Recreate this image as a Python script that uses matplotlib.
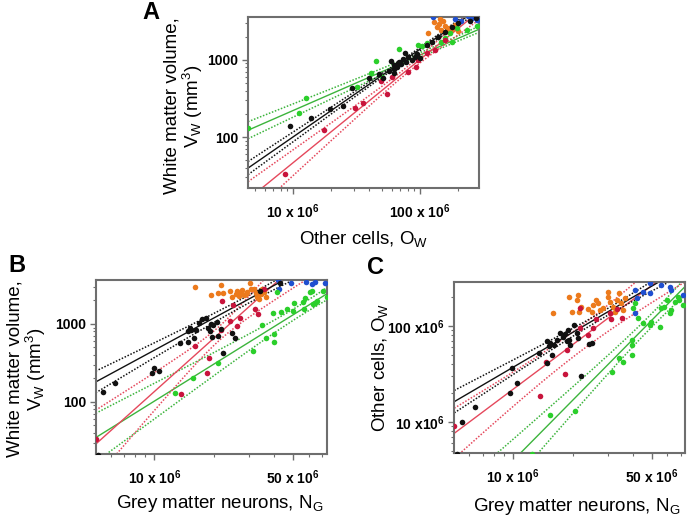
import numpy as np
import matplotlib
matplotlib.use('Agg')
import matplotlib.pyplot as plt
from matplotlib.ticker import LogLocator, NullFormatter

plt.rcParams['font.family'] = ['Liberation Sans', 'DejaVu Sans']
plt.rcParams['mathtext.fontset'] = 'custom'
plt.rcParams['mathtext.rm'] = 'Liberation Sans'
plt.rcParams['mathtext.it'] = 'Liberation Sans:italic'
plt.rcParams['mathtext.bf'] = 'Liberation Sans:bold'

# ---- panel A: other cells (x) vs white matter volume (y)
A_black_x = [9.5e6, 14e6, 19.7e6, 25e6, 29e6, 40e6, 48e6, 51e6, 57e6, 59e6, 62e6, 62e6, 63e6, 66e6, 67e6,
             68e6, 71e6, 74e6, 76e6, 78e6, 81e6, 86e6, 91e6, 95e6, 100e6, 113e6, 124e6, 140e6, 157e6,
             178e6, 200e6, 248e6, 275e6]
A_black_y = [139, 178, 231, 253, 433, 578, 652, 589, 720, 980, 672, 861, 757, 800, 906,
             950, 887, 1020, 1220, 940, 1100, 1000, 1100, 1200, 1050, 1570, 1730, 2010, 2330,
             2700, 3050, 3240, 3500]
A_red_x = [8.6e6, 17.6e6, 30.8e6, 35.4e6, 49e6, 54.7e6, 60e6, 81e6, 93e6, 97e6, 113e6, 131e6, 157e6]
A_red_y = [33, 123, 236, 274, 533, 362, 607, 705, 818, 1000, 1220, 1350, 1820]
A_green_x = [4.45e6, 11.1e6, 12.6e6, 32e6, 41e6, 44.8e6, 50e6, 68e6, 96e6, 103e6, 113e6, 147e6, 157e6,
             172e6, 179e6, 195e6, 234e6, 281e6]
A_green_y = [130, 203, 321, 450, 672, 980, 600, 1380, 1570, 1520, 1650, 1730, 1910,
             2220, 1710, 2580, 2450, 2770]
A_orange_x = [116e6, 129e6, 136e6, 141e6, 145e6, 147e6, 152e6, 157e6, 163e6, 169e6, 179e6, 189e6, 199e6]
A_orange_y = [2240, 3100, 2680, 2930, 3400, 2450, 3200, 2770, 2380, 2600, 2520, 2850, 2380]
A_blue_x = [127e6, 188e6, 212e6, 240e6, 255e6, 280e6]
A_blue_y = [3650, 3400, 3240, 3700, 3500, 3300]

# ---- panel B: grey matter neurons (x) vs white matter volume (y)
B_black_x = [5.2e6, 5.5e6, 6.3e6, 9.7e6, 9.9e6, 10.6e6, 13.4e6, 14.8e6, 14.8e6, 15.1e6, 15.3e6, 15.8e6,
             16.3e6, 16.8e6, 17.4e6, 18.1e6, 18.7e6, 19e6, 19.4e6, 19.5e6, 19.7e6, 20.6e6, 20.9e6,
             21.6e6, 22.1e6, 24.6e6, 25.5e6, 34e6, 43e6]
B_black_y = [21, 135, 177, 233, 275, 252, 566, 593, 820, 880, 838, 656,
             838, 1020, 1150, 1200, 880, 800, 1000, 680, 966, 1070, 700,
             855, 430, 760, 670, 2650, 3330]
B_red_x = [5.06e6, 13.6e6, 16e6, 18.5e6, 18.9e6, 21.6e6, 22e6, 24e6, 25e6, 26e6, 26.9e6, 32e6, 33.3e6, 35.8e6]
B_red_y = [33, 126, 522, 233, 370, 838, 1970, 1090, 1740, 943, 1180, 1540, 1330, 2780]
B_green_x = [12.7e6, 15.6e6, 20.9e6, 31.5e6, 35e6, 36.5e6, 40.1e6, 40.1e6, 39.8e6, 41.7e6, 43.3e6, 46.5e6,
             50.3e6, 50.7e6, 56.6e6, 56e6, 57.6e6, 61e6, 62.6e6, 63.4e6, 65e6, 66e6, 71e6, 74e6]
B_green_y = [129, 202, 316, 450, 970, 656, 738, 593, 1370, 2570, 1420, 1540,
             1470, 1840, 1540, 1910, 2170, 2570, 2650, 1790, 1880, 1970, 2650, 2240]
B_orange_x = [16e6, 19.3e6, 20.9e6, 21.8e6, 22.2e6, 24e6, 24.6e6, 25.7e6, 26.2e6, 26.7e6, 27.2e6, 27.7e6,
              28.3e6, 28.9e6, 29.4e6, 30.4e6, 30.6e6, 31.8e6, 32.4e6, 33e6, 33.7e6, 34.4e6, 35e6,
              35.7e6, 36.5e6]
B_orange_y = [2980, 2330, 2470, 3190, 2520, 2650, 2240, 2400, 2650, 2290, 2520, 2730,
              2330, 2400, 2570, 3330, 2780, 2840, 2520, 2240, 2070, 2400, 2780,
              2570, 2240]
B_blue_x = [41.9e6, 42.6e6, 48.7e6, 58e6, 62.6e6, 65e6, 73e6]
B_blue_y = [3665, 2790, 3390, 3450, 3230, 3450, 3390]

# ---- panel C: grey matter neurons (x) vs other cells (y)
C_black_x = [5.2e6, 5.5e6, 6.4e6, 9.6e6, 9.9e6, 10.5e6, 13.5e6, 14.8e6, 15.3e6, 15.2e6, 15.6e6, 14.8e6,
             16.1e6, 16.6e6, 17.2e6, 17.9e6, 18.2e6, 18.6e6, 19e6, 19.1e6, 19.3e6, 20.3e6, 20.9e6,
             21.3e6, 22e6, 24.2e6, 24.9e6]
C_black_y = [4.6e6, 9.9e6, 14.4e6, 20.2e6, 36.2e6, 25.6e6, 52e6, 70e6, 67e6, 62e6, 50e6, 41.5e6,
             63e6, 71e6, 84e6, 77e6, 83e6, 69e6, 91e6, 71e6, 63e6, 102e6, 84e6,
             74.5e6, 30e6, 65e6, 66e6]
C_red_x = [5.04e6, 13.6e6, 14.6e6, 18.2e6, 18.6e6, 21.7e6, 21.7e6, 23.7e6, 25.3e6, 26.3e6, 30.8e6,
           31.3e6, 33.3e6, 35.3e6]
C_red_y = [9e6, 18.7e6, 42e6, 31.6e6, 56e6, 153e6, 95e6, 80e6, 95e6, 117e6, 136e6,
           117e6, 149e6, 120e6]
C_green_x = [12.5e6, 15.3e6, 20.5e6, 31.4e6, 34.3e6, 35.8e6, 39.6e6, 39.6e6, 39.8e6, 40.4e6, 41.2e6,
             42.8e6, 45.4e6, 49e6, 49.8e6, 55e6, 56e6, 57.8e6, 59.7e6, 61.7e6, 62.5e6, 65.6e6,
             68e6, 69e6, 72e6]
C_green_y = [4.6e6, 11.8e6, 13.1e6, 33.4e6, 46e6, 42.5e6, 71e6, 63e6, 50e6, 153e6, 172e6,
             120e6, 107e6, 102e6, 111e6, 98e6, 153e6, 159e6, 187e6, 136e6, 147e6, 179e6,
             202e6, 187e6, 165e6]
C_orange_x = [15.9e6, 19.1e6, 19.8e6, 20.9e6, 21.3e6, 21.5e6, 21.9e6, 23.9e6, 24.9e6, 25.3e6, 26.1e6,
              26.9e6, 27.5e6, 28.5e6, 29.9e6, 30.2e6, 30.8e6, 32e6, 32.6e6, 33.3e6, 34e6, 34.8e6,
              35.8e6, 36.6e6]
C_orange_y = [138e6, 202e6, 141e6, 187e6, 210e6, 141e6, 159e6, 149e6, 141e6, 166e6, 187e6,
              175e6, 147e6, 153e6, 228e6, 202e6, 179e6, 159e6, 141e6, 187e6, 219e6, 172e6,
              147e6, 194e6]
C_blue_x = [41.2e6, 41.9e6, 41.2e6, 45.4e6, 49e6, 49e6, 56e6, 61.7e6, 62.6e6, 72e6]
C_blue_y = [237e6, 194e6, 136e6, 228e6, 222e6, 282e6, 267e6, 257e6, 237e6, 210e6]

# fitted lines: log10(y) = a + b*(log10(x) - 7)
# band half width = sqrt(w0^2 + (k*(log10(x) - c))^2)   -> [a, b, c, w0, k]
fitA_black = [2.0, 1.14, 7.9, 0.02, 0.066]
fitA_red = [1.665, 1.34, 7.9, 0.04, 0.18]
fitA_green = [2.343, 0.72, 8.1, 0.03, 0.073]
fitB_black = [2.664, 1.375, 7.48, 0.05, 0.167]
fitB_red = [2.134, 2.277, 7.33, 0.09, 0.68]
fitB_green = [2.011, 1.58, 7.75, 0.07, 0.29]
fitC_black = [7.571, 1.207, 7.45, 0.035, 0.149]
fitC_red = [7.342, 1.545, 7.35, 0.13, 0.35]
fitC_green = [6.6, 2.088, 7.7, 0.07, 0.30]

col_black = '#111111'
col_red = '#c8143c'
col_red_line = '#e5485c'
col_green = '#2bcf2b'
col_green_line = '#3cb43c'
col_orange = '#ec7a1c'
col_blue = '#1f4fd0'
frame_col = '#6e6e6e'


def fit_lines(ax, xlim, p, col):
    a, b, c, w0, k = p
    lx = np.linspace(np.log10(xlim[0]), np.log10(xlim[1]), 300)
    mid = a + b * (lx - 7)
    hw = np.sqrt(w0 ** 2 + (k * (lx - c)) ** 2)
    ax.plot(10 ** lx, 10 ** mid, color=col, lw=1.0)
    ax.plot(10 ** lx, 10 ** (mid + hw), color=col, lw=1.1, ls=(0, (1, 1.1)))
    ax.plot(10 ** lx, 10 ** (mid - hw), color=col, lw=1.1, ls=(0, (1, 1.1)))


def setup(ax, xlim, ylim, xt, xtl, yt, ytl):
    ax.set_xscale('log')
    ax.set_yscale('log')
    ax.set_xlim(xlim)
    ax.set_ylim(ylim)
    ax.set_xticks(xt, xtl, fontweight='bold', fontsize=10)
    ax.set_yticks(yt, ytl, fontweight='bold', fontsize=10)
    for axis in (ax.xaxis, ax.yaxis):
        axis.set_minor_locator(LogLocator(base=10, subs=np.arange(2, 10), numticks=30))
        axis.set_minor_formatter(NullFormatter())
    ax.tick_params(which='major', length=4, width=1, color=frame_col, direction='out')
    ax.tick_params(which='minor', length=2.5, width=0.8, color=frame_col, direction='out')
    ax.tick_params(axis='x', which='major', pad=6)
    ax.tick_params(axis='y', which='major', pad=3)
    for s in ax.spines.values():
        s.set_color(frame_col)
        s.set_linewidth(1.5)


def dots(ax, x, y, col):
    ax.scatter(x, y, s=16, color=col, linewidths=0, zorder=3)


fig = plt.figure(figsize=(6.92, 5.23), dpi=100)

# panel A
axA = fig.add_axes([0.3584, 0.6405, 0.3338, 0.327])
xlimA = (4.43e6, 2.92e8)
dots(axA, A_orange_x, A_orange_y, col_orange)
dots(axA, A_blue_x, A_blue_y, col_blue)
dots(axA, A_green_x, A_green_y, col_green)
dots(axA, A_red_x, A_red_y, col_red)
dots(axA, A_black_x, A_black_y, col_black)
fit_lines(axA, xlimA, fitA_green, col_green_line)
fit_lines(axA, xlimA, fitA_red, col_red_line)
fit_lines(axA, xlimA, fitA_black, col_black)
setup(axA, xlimA, (21.8, 3610), [1e7, 1e8],
      [r'10 x 10$^\mathbf{6}$', r'100 x 10$^\mathbf{6}$'], [100, 1000], ['100', '1000'])
axA.set_xlabel(r'Other cells, O$_\mathregular{W}$', fontsize=13.5)
axA.xaxis.set_label_coords(0.5, -0.24)
axA.set_ylabel('White matter volume,\n' + r'V$_\mathregular{W}$ (mm$^\mathregular{3}$)', fontsize=13.5,
               linespacing=1.0)
axA.yaxis.set_label_coords(-0.186, 0.48)

# panel B
axB = fig.add_axes([0.1383, 0.1314, 0.3347, 0.3333])
xlimB = (5.05e6, 7.46e7)
dots(axB, B_orange_x, B_orange_y, col_orange)
dots(axB, B_blue_x, B_blue_y, col_blue)
dots(axB, B_green_x, B_green_y, col_green)
dots(axB, B_red_x, B_red_y, col_red)
dots(axB, B_black_x, B_black_y, col_black)
fit_lines(axB, xlimB, fitB_green, col_green_line)
fit_lines(axB, xlimB, fitB_red, col_red_line)
fit_lines(axB, xlimB, fitB_black, col_black)
setup(axB, xlimB, (21.3, 3665), [1e7, 5e7],
      [r'10 x 10$^\mathbf{6}$', r'50 x 10$^\mathbf{6}$'], [100, 1000], ['100', '1000'])
axB.set_xlabel(r'Grey matter neurons, N$_\mathregular{G}$', fontsize=13.5)
axB.xaxis.set_label_coords(0.535, -0.225)
axB.set_ylabel('White matter volume,\n' + r'V$_\mathregular{W}$ (mm$^\mathregular{3}$)', fontsize=13.5,
               linespacing=1.0)
axB.yaxis.set_label_coords(-0.206, 0.49)

# panel C
axC = fig.add_axes([0.6565, 0.1333, 0.3334, 0.3275])
xlimC = (5.04e6, 7.36e7)
dots(axC, C_orange_x, C_orange_y, col_orange)
dots(axC, C_blue_x, C_blue_y, col_blue)
dots(axC, C_green_x, C_green_y, col_green)
dots(axC, C_red_x, C_red_y, col_red)
dots(axC, C_black_x, C_black_y, col_black)
fit_lines(axC, xlimC, fitC_green, col_green_line)
fit_lines(axC, xlimC, fitC_red, col_red_line)
fit_lines(axC, xlimC, fitC_black, col_black)
setup(axC, xlimC, (4.72e6, 2.87e8), [1e7, 5e7],
      [r'10 x 10$^\mathbf{6}$', r'50 x 10$^\mathbf{6}$'], [1e7, 1e8],
      [r'10 x10$^\mathbf{6}$', r'100 x10$^\mathbf{6}$'])
axC.set_xlabel(r'Grey matter neurons, N$_\mathregular{G}$', fontsize=13.5)
axC.xaxis.set_label_coords(0.53, -0.25)
axC.set_ylabel(r'Other cells, O$_\mathregular{W}$', fontsize=13.5)
axC.yaxis.set_label_coords(-0.279, 0.5)

fig.text(142 / 692, 1 - 19 / 523, 'A', fontsize=17, fontweight='bold')
fig.text(8 / 692, 1 - 272 / 523, 'B', fontsize=17, fontweight='bold')
fig.text(367 / 692, 1 - 274 / 523, 'C', fontsize=17, fontweight='bold')

fig.savefig('out.png', dpi=100)
